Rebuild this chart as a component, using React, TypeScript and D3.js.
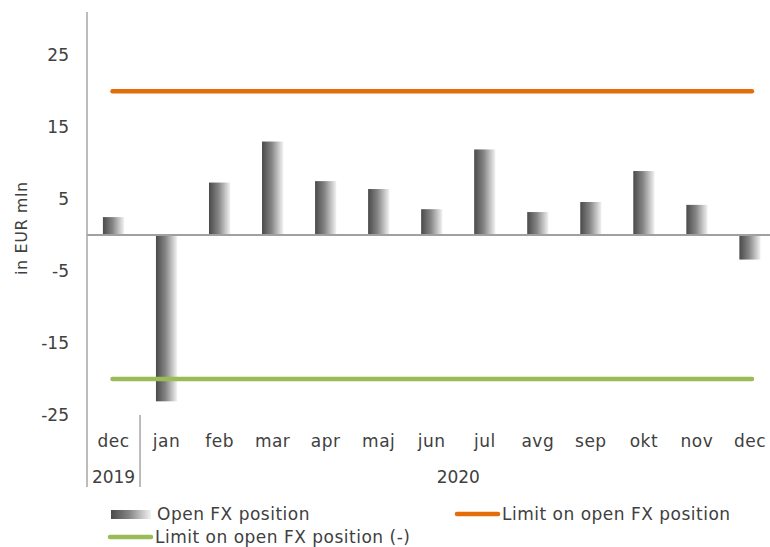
import React from "react";
import * as d3 from "d3";

const months = ["dec", "jan", "feb", "mar", "apr", "maj", "jun", "jul", "avg", "sep", "okt", "nov", "dec"];
const years = ["2019", "2020"];
const yearSpans = [1, 12];
const openFX = [2.5, -23.1, 7.3, 13.0, 7.5, 6.4, 3.6, 11.9, 3.2, 4.6, 8.9, 4.2, -3.4];
const limitPos = 20;
const limitNeg = -20;
const yTicks = [25, 15, 5, -5, -15, -25];

const W = 770;
const H = 547;
const FONT = "'DejaVu Sans', sans-serif";
const TXT = "#404040";
const LS = 0.5;

export default function App() {
  const x = d3
    .scaleBand<number>()
    .domain(months.map((_, i) => i))
    .range([87, 776.5])
    .padding(0);
  const y = d3.scaleLinear().domain([-25, 31]).range([415, 12]);
  const step = x.step();
  const bw = step * 0.4;
  const cx = (i: number) => (x(i) as number) + step / 2;

  const lineX1 = cx(0) - 1;
  const lineX2 = cx(months.length - 1) + 2;

  let acc = 0;
  const yearGroups = years.map((yr, k) => {
    const start = acc;
    acc += yearSpans[k];
    const x0 = x(start) as number;
    const x1 = (x(acc - 1) as number) + step;
    return { yr, x0, x1, mid: (x0 + x1) / 2 };
  });

  return (
    <svg
      width={W}
      height={H}
      style={{ position: "absolute", left: 0, top: 0, background: "#fff" }}
      fontFamily={FONT}
    >
      <defs>
        <linearGradient id="barGrad" x1="0" x2="1" y1="0" y2="0">
          <stop offset="0%" stopColor="#4a4a4a" />
          <stop offset="45%" stopColor="#858585" />
          <stop offset="100%" stopColor="#f2f2f2" />
        </linearGradient>
      </defs>

      {/* y tick labels */}
      {yTicks.map((t) => (
        <text key={t} x={69} y={y(t)} dy="0.35em" textAnchor="end" fontSize={17} fill={TXT}>
          {t}
        </text>
      ))}

      {/* y title */}
      <text
        transform={`translate(27,${y(0) - 7}) rotate(-90)`}
        textAnchor="middle"
        fontSize={16}
        letterSpacing={0.6}
        fill={TXT}
      >
        in EUR mln
      </text>

      {/* bars */}
      {openFX.map((v, i) => (
        <rect
          key={i}
          x={cx(i) - bw / 2}
          y={v >= 0 ? y(v) : y(0)}
          width={bw}
          height={Math.abs(y(v) - y(0))}
          fill="url(#barGrad)"
        />
      ))}

      {/* zero line */}
      <line x1={87} x2={W} y1={y(0)} y2={y(0)} stroke="#a0a0a0" strokeWidth={2} />

      {/* y axis line */}
      <line x1={87} x2={87} y1={12} y2={487} stroke="#a6a6a6" strokeWidth={1.5} />

      {/* limit lines */}
      <line x1={lineX1} x2={lineX2} y1={y(limitPos)} y2={y(limitPos)} stroke="#E46C0A" strokeWidth={4.5} strokeLinecap="round" />
      <line x1={lineX1} x2={lineX2} y1={y(limitNeg)} y2={y(limitNeg)} stroke="#9BBB59" strokeWidth={4.5} strokeLinecap="round" />

      {/* category labels */}
      {months.map((m, i) => (
        <text key={i} x={cx(i)} y={441} dy="0.35em" textAnchor="middle" fontSize={17} letterSpacing={LS} fill={TXT}>
          {m}
        </text>
      ))}

      {/* year separators and labels */}
      {yearGroups.map((g, k) => (
        <g key={k}>
          {k > 0 && (
            <line x1={g.x0} x2={g.x0} y1={415} y2={487} stroke="#a6a6a6" strokeWidth={1.5} />
          )}
          <text x={g.mid} y={477} dy="0.35em" textAnchor="middle" fontSize={17} fill={TXT}>
            {g.yr}
          </text>
        </g>
      ))}

      {/* legend */}
      <rect x={111} y={510} width={40} height={9} fill="url(#barGrad)" />
      <text x={157} y={514} dy="0.35em" fontSize={17} letterSpacing={LS} fill={TXT}>
        Open FX position
      </text>
      <line x1={457} x2={498} y1={514} y2={514} stroke="#E46C0A" strokeWidth={4.5} strokeLinecap="round" />
      <text x={502} y={514} dy="0.35em" fontSize={17} letterSpacing={LS} fill={TXT}>
        Limit on open FX position
      </text>
      <line x1={110} x2={151} y1={537} y2={537} stroke="#9BBB59" strokeWidth={4.5} strokeLinecap="round" />
      <text x={155} y={537} dy="0.35em" fontSize={17} letterSpacing={LS} fill={TXT}>
        Limit on open FX position (-)
      </text>
    </svg>
  );
}
